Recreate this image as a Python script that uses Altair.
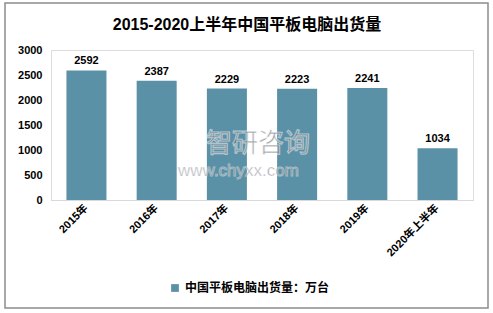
import altair as alt
import pandas as pd

categories = ["2015年", "2016年", "2017年", "2018年", "2019年", "2020年上半年"]
values = [2592, 2387, 2229, 2223, 2241, 1034]
series_name = "中国平板电脑出货量：万台"
title_text = "2015-2020上半年中国平板电脑出货量"
y_ticks = [0, 500, 1000, 1500, 2000, 2500, 3000]

df = pd.DataFrame({"cat": categories, "val": values, "series": [series_name] * len(categories)})

FONT = "Liberation Sans, Arial, Noto Sans CJK SC"
BAR = "#5B91A7"

x = alt.X("cat:N", sort=categories, title=None,
          scale=alt.Scale(paddingInner=0.43, paddingOuter=0.22),
          axis=alt.Axis(labelAngle=-45, labelAlign="right", labelBaseline="middle",
                        labelFont=FONT, labelFontWeight="bold", labelFontSize=11,
                        labelColor="#000000", ticks=False, domainColor="#D9D9D9",
                        labelPadding=6, domainWidth=1, labelOverlap=False))
y = alt.Y("val:Q", title=None,
          scale=alt.Scale(domain=[0, 3000]),
          axis=alt.Axis(values=y_ticks, format="d", grid=False, labelOverlap=False,
                        domain=False, ticks=False, labelFont=FONT, labelFontWeight="bold",
                        labelFontSize=11, labelColor="#000000", labelPadding=9))

bars = alt.Chart(df).mark_bar(color=BAR).encode(
    x=x, y=y,
    color=alt.Color("series:N", scale=alt.Scale(range=[BAR]), title=None,
                    legend=alt.Legend(orient="none", legendX=118, legendY=232,
                                      symbolType="square", symbolSize=60,
                                      labelFont=FONT, labelFontWeight="bold",
                                      labelFontSize=12, labelColor="#000000",
                                      symbolStrokeWidth=0, labelLimit=300)))

labels = alt.Chart(df).mark_text(dy=-9, font=FONT, fontWeight="bold", fontSize=11,
                                 color="#000000").encode(
    x=x, y=y, text="val:Q")

title_df = pd.DataFrame({"t": [title_text]})
title = alt.Chart(title_df).mark_text(font=FONT, fontSize=16, fontWeight="bold",
                                      color="#000000", align="center", baseline="middle").encode(
    text="t:N", x=alt.value(196), y=alt.value(-25))

wm = pd.DataFrame({"t": ["智研咨询", "www.chyxx.com"]})
wm1 = alt.Chart(wm.iloc[[0]]).mark_text(font="Noto Sans CJK SC", fontSize=26,
                                        color="#6E7378", opacity=0.75, align="left",
                                        stroke="#FFFFFF", strokeWidth=1.2, strokeOpacity=0.7,
                                        baseline="alphabetic").encode(
    text="t:N", x=alt.value(155), y=alt.value(102))
wm2 = alt.Chart(wm.iloc[[1]]).mark_text(font=FONT, fontSize=17, color="#6E7378",
                                        opacity=0.75, align="left", stroke="#FFFFFF",
                                        strokeWidth=1, strokeOpacity=0.6,
                                        baseline="alphabetic").encode(
    text="t:N", x=alt.value(127), y=alt.value(126))

border = alt.Chart(df.iloc[[0]]).mark_rect(fill=None, stroke="#8C8C8C", strokeWidth=1.5,
                                           clip=False).encode(
    x=alt.value(-46), x2=alt.value(437), y=alt.value(-47), y2=alt.value(258))

chart = alt.layer(bars, labels, wm1, wm2, title, border).properties(
    width=422, height=150,
    autosize=alt.AutoSizeParams(type="none"),
    padding={"left": 51, "top": 50, "right": 20, "bottom": 113},
).configure_view(stroke=None).configure_axis(labelOverlap=False).configure(background="#FFFFFF")

chart.save("out.html", embed_options={"renderer": "svg", "actions": False})
